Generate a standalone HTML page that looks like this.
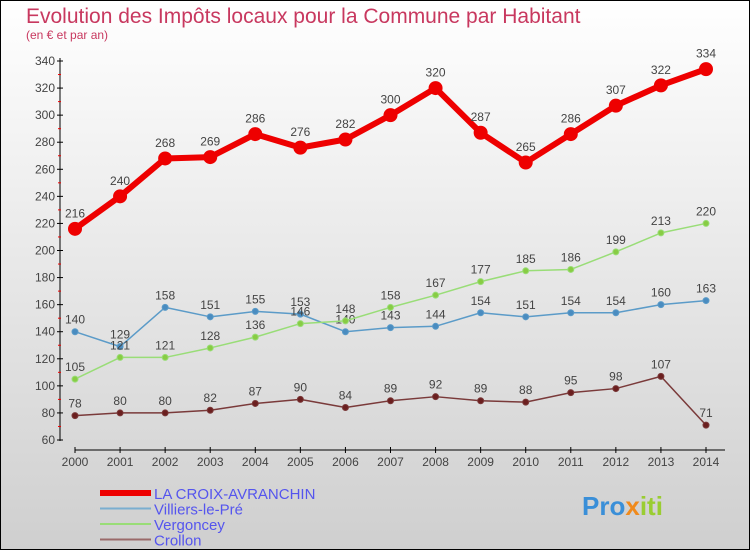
<!DOCTYPE html>
<html><head><meta charset="utf-8"><style>
html,body{margin:0;padding:0}
body{width:750px;height:550px;overflow:hidden;font-family:"Liberation Sans",sans-serif}
svg{display:block}
</style></head><body>
<svg id="chart" width="750" height="550" xmlns="http://www.w3.org/2000/svg">
<defs><linearGradient id="bg" x1="0" y1="0" x2="0" y2="1"><stop offset="0" stop-color="#ffffff"/><stop offset="1" stop-color="#cfcfcf"/></linearGradient></defs>
<rect x="0.5" y="0.5" width="749" height="549" fill="url(#bg)" stroke="#000"/>
<text x="26" y="23" font-size="21" fill="#c8385f">Evolution des Impôts locaux pour la Commune par Habitant</text>
<text x="26" y="39" font-size="12" fill="#c8385f">(en € et par an)</text>
<g id="axes"></g>
<g id="series"></g>
<g id="legend"></g>
<text x="582" y="515" font-size="26" font-weight="bold" fill="#3a8fd8">Pro<tspan fill="#f08a1c">x</tspan><tspan fill="#9acd32">iti</tspan></text>
</svg>
<script>
const years=[2000,2001,2002,2003,2004,2005,2006,2007,2008,2009,2010,2011,2012,2013,2014];
const croix=[216,240,268,269,286,276,282,300,320,287,265,286,307,322,334];
const villiers=[140,129,158,151,155,153,140,143,144,154,151,154,154,160,163];
const vergoncey=[105,121,121,128,136,146,148,158,167,177,185,186,199,213,220];
const crollon=[78,80,80,82,87,90,84,89,92,89,88,95,98,107,71];
const yTicks=[60,80,100,120,140,160,180,200,220,240,260,280,300,320,340];
const NS="http://www.w3.org/2000/svg";
function X(i){return 75+i*(706-75)/14;}
function Y(v){return 440-(v-60)*(379/280);}
function mk(tag,attrs,parent,text){const e=document.createElementNS(NS,tag);for(const k in attrs)e.setAttribute(k,attrs[k]);if(text!==undefined)e.textContent=text;parent.appendChild(e);return e;}
const axes=document.getElementById('axes');
let a=mk('line',{x1:60,y1:58,x2:60,y2:441,stroke:'#000'},axes);


a=mk('line',{x1:75,y1:450,x2:725,y2:450,stroke:'#000'},axes);


yTicks.forEach((t,i)=>{
  const y=Y(t);
  mk('line',{x1:57,y1:y,x2:63,y2:y,stroke:'#000'},axes);
  const l=mk('text',{x:55,y:y+4,'font-size':12,'text-anchor':'end',fill:'#444'},axes,t);
  
  
  if(i<yTicks.length-1){mk('line',{x1:58,y1:Y(t+10),x2:61,y2:Y(t+10),stroke:'#e00'},axes);}
});
years.forEach((yr,i)=>{
  mk('line',{x1:X(i),y1:447,x2:X(i),y2:453,stroke:'#000'},axes);
  const l=mk('text',{x:X(i),y:466,'font-size':12,'text-anchor':'middle',fill:'#444'},axes,yr);
  
  
});
const S=document.getElementById('series');
function series(vals,color,dot,lw,r,name){
  const g=mk('g',{},S);
  
  
  const pts=vals.map((v,i)=>X(i)+','+Y(v)).join(' ');
  const pl=mk('polyline',{points:pts,fill:'none',stroke:color,'stroke-width':lw,'stroke-linejoin':'round'},g);
  
  
  vals.forEach((v,i)=>{
    const c=mk('circle',{cx:X(i),cy:Y(v),r:r,fill:dot,stroke:color,'stroke-width':1},g);
    
    
    const t=mk('text',{x:X(i),y:Y(v)-(r+5),'font-size':12,'text-anchor':'middle',fill:'#444'},g,v);
    
    
  });
}
series(crollon,'#7a3a3a','#6b1f1f',1.5,3,'crollon');
series(villiers,'#5b9bc8','#4a8cc0',1.5,3,'villiers');
series(vergoncey,'#99dd77','#88cc44',1.5,3,'vergoncey');
series(croix,'#ee0000','#ee0000',6,6.5,'croix');
const L=document.getElementById('legend');
const leg=[['LA CROIX-AVRANCHIN','#ee0000',6],['Villiers-le-Pré','#7aaed0',2],['Vergoncey','#99dd77',2],['Crollon','#9a6a6a',2]];
leg.forEach((e,i)=>{
  const y=493+i*15.5;
  const g=mk('g',{},L);
  
  
  mk('line',{x1:100,y1:y,x2:151,y2:y,stroke:e[1],'stroke-width':e[2]},g);
  mk('text',{x:154,y:y+6,'font-size':15,fill:'#5555ee'},g,e[0]);
});
</script>
</body></html>
